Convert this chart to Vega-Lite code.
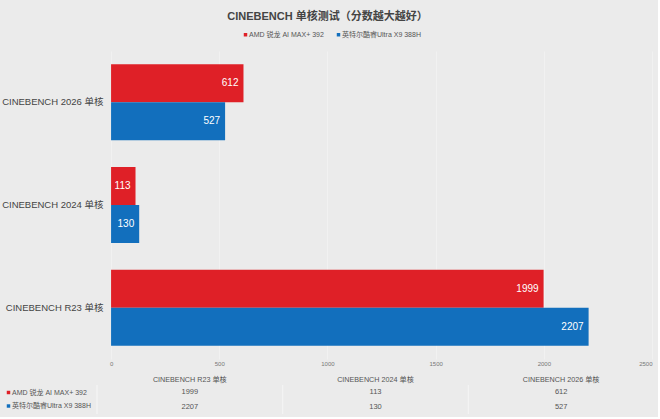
{
  "$schema": "https://vega.github.io/schema/vega-lite/v6.json",
  "background": "#ebebeb",
  "padding": {"left": 1, "top": 11, "right": 4, "bottom": 2},
  "config": {
    "font": "Liberation Sans, Noto Sans CJK SC, sans-serif",
    "view": {"stroke": null}
  },
  "title": {
    "text": "CINEBENCH 单核测试（分数越大越好）",
    "fontSize": 11,
    "fontWeight": "bold",
    "color": "#444444",
    "anchor": "middle",
    "offset": 9
  },
  "datasets": {
    "scores": [
      {"bench": "CINEBENCH R23 单核", "cpu": "AMD 锐龙 AI MAX+ 392", "score": 1999},
      {"bench": "CINEBENCH 2024 单核", "cpu": "AMD 锐龙 AI MAX+ 392", "score": 113},
      {"bench": "CINEBENCH 2026 单核", "cpu": "AMD 锐龙 AI MAX+ 392", "score": 612},
      {"bench": "CINEBENCH R23 单核", "cpu": "英特尔酷睿Ultra X9 388H", "score": 2207},
      {"bench": "CINEBENCH 2024 单核", "cpu": "英特尔酷睿Ultra X9 388H", "score": 130},
      {"bench": "CINEBENCH 2026 单核", "cpu": "英特尔酷睿Ultra X9 388H", "score": 527}
    ]
  },
  "spacing": 9,
  "resolve": {"legend": {"color": "independent"}},
  "vconcat": [
    {
      "width": 555,
      "height": 308,
      "data": {"name": "scores"},
      "encoding": {
        "y": {
          "field": "bench",
          "type": "nominal",
          "sort": ["CINEBENCH 2026 单核", "CINEBENCH 2024 单核", "CINEBENCH R23 单核"],
          "scale": {"paddingInner": 0.26, "paddingOuter": 0.13},
          "axis": {
            "title": null,
            "ticks": false,
            "domain": false,
            "labelFontSize": 9.5,
            "labelColor": "#444444",
            "labelPadding": -6
          }
        },
        "yOffset": {
          "field": "cpu",
          "sort": ["AMD 锐龙 AI MAX+ 392", "英特尔酷睿Ultra X9 388H"]
        },
        "x": {
          "field": "score",
          "type": "quantitative",
          "scale": {"domain": [-65, 2500], "nice": false},
          "axis": {
            "title": null,
            "values": [0, 500, 1000, 1500, 2000, 2500],
            "format": "d",
            "ticks": false,
            "domain": false,
            "labelFlush": true,
            "labelFontSize": 6,
            "labelColor": "#777777",
            "labelPadding": 1,
            "gridColor": "#f1f1f1"
          }
        }
      },
      "layer": [
        {
          "mark": {"type": "bar"},
          "encoding": {
            "color": {
              "field": "cpu",
              "type": "nominal",
              "scale": {
                "domain": ["AMD 锐龙 AI MAX+ 392", "英特尔酷睿Ultra X9 388H"],
                "range": ["#df2027", "#126fbd"]
              },
              "legend": {
                "title": null,
                "orient": "none",
                "direction": "horizontal",
                "legendX": 145,
                "legendY": -20,
                "symbolType": "square",
                "symbolSize": 12,
                "labelFontSize": 7,
                "labelColor": "#555555",
                "labelOffset": 0,
                "columnPadding": 11
              }
            }
          }
        },
        {
          "mark": {"type": "text", "align": "right", "dx": -5, "color": "#ffffff", "fontSize": 10},
          "encoding": {"text": {"field": "score", "type": "quantitative"}}
        }
      ]
    },
    {
      "width": 557,
      "height": 29,
      "data": {"name": "scores"},
      "encoding": {
        "x": {
          "field": "bench",
          "type": "nominal",
          "sort": ["CINEBENCH R23 单核", "CINEBENCH 2024 单核", "CINEBENCH 2026 单核"],
          "scale": {"paddingInner": 0, "paddingOuter": 0},
          "axis": {
            "orient": "top",
            "title": null,
            "ticks": false,
            "domain": false,
            "labelAngle": 0,
            "labelFontSize": 7.2,
            "labelColor": "#555555",
            "labelPadding": 2
          }
        }
      },
      "layer": [
        {
          "mark": {"type": "rule", "color": "#f3f3f3", "strokeWidth": 1},
          "encoding": {
            "x": {
              "field": "bench",
              "type": "nominal",
              "bandPosition": 0,
              "sort": ["CINEBENCH R23 单核", "CINEBENCH 2024 单核", "CINEBENCH 2026 单核"]
            }
          }
        },
        {
          "mark": {"type": "point", "shape": "square", "filled": true, "opacity": 0},
          "encoding": {
            "y": {
              "field": "cpu",
              "type": "nominal",
              "sort": ["AMD 锐龙 AI MAX+ 392", "英特尔酷睿Ultra X9 388H"],
              "scale": {"paddingInner": 0, "paddingOuter": 0},
              "axis": null
            },
            "color": {
              "field": "cpu",
              "type": "nominal",
              "legend": {
                "title": null,
                "orient": "left",
                "direction": "vertical",
                "offset": 2,
                "padding": 4,
                "symbolType": "square",
                "symbolSize": 12,
                "symbolOpacity": 1,
                "labelFontSize": 7,
                "labelColor": "#555555",
                "labelOffset": 0,
                "rowPadding": 5.5
              }
            }
          }
        },
        {
          "mark": {"type": "text", "fontSize": 7.5, "color": "#555555"},
          "encoding": {
            "y": {
              "field": "cpu",
              "type": "nominal",
              "sort": ["AMD 锐龙 AI MAX+ 392", "英特尔酷睿Ultra X9 388H"],
              "axis": null
            },
            "text": {"field": "score", "type": "quantitative"}
          }
        }
      ]
    }
  ]
}
